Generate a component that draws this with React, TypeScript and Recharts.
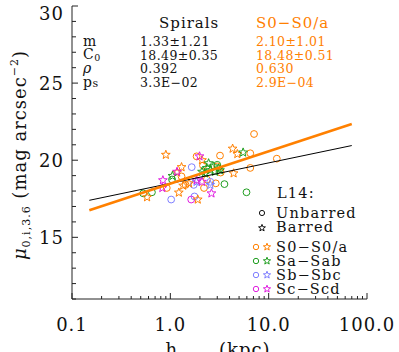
import React from "react";
import { ScatterChart, Scatter, XAxis, YAxis } from "recharts";

const ORANGE = "#ff8000";
const GREEN = "#1f9e1f";
const BLUE = "#7f7fff";
const MAGENTA = "#e01ee0";
const AXIS = "#222";
const FONT = "'DejaVu Serif', serif";

// h (kpc), mu_0 (mag arcsec^-2)
const s0Unbarred: [number, number][] = [
  [7.1, 21.7], [6.5, 20.45], [12.1, 20.1], [6.5, 19.5], [3.2, 20.3],
  [1.85, 20.25], [2.15, 19.65], [3.0, 19.6], [3.25, 19.2], [1.3, 18.95],
  [0.92, 18.2], [1.43, 18.4], [2.2, 18.2], [2.9, 18.5], [2.35, 18.75],
];
const s0Barred: [number, number][] = [
  [0.9, 20.35], [4.3, 20.75], [4.8, 20.4], [4.4, 19.15], [1.3, 19.55],
  [1.17, 19.2], [0.58, 17.6], [1.22, 17.9], [1.35, 18.35], [1.9, 17.45],
  [2.1, 20.0], [1.55, 18.5],
];
const saUnbarred: [number, number][] = [
  [0.53, 17.85], [0.65, 17.92], [5.95, 17.92], [3.55, 18.45], [3.0, 19.7], [1.04, 18.75],
];
const saBarred: [number, number][] = [
  [5.5, 20.5], [1.05, 18.98], [2.45, 19.8], [2.1, 19.25], [2.25, 19.15],
  [2.55, 19.35], [2.75, 19.6], [2.85, 19.25], [3.1, 19.45], [2.35, 19.5], [3.2, 19.35],
];
const sbUnbarred: [number, number][] = [
  [1.65, 19.55], [1.02, 17.45], [1.73, 18.4], [1.76, 17.65], [2.55, 18.6],
];
const sbBarred: [number, number][] = [[2.55, 18.4], [1.85, 18.6]];
const scUnbarred: [number, number][] = [[1.63, 17.45]];
const scBarred: [number, number][] = [
  [1.98, 20.25], [0.84, 18.7], [0.83, 18.2], [1.17, 19.25], [2.62, 17.85], [1.85, 18.7], [2.1, 18.6],
];

// fitted relations (end points)
const spiralFit: [number, number][] = [[0.15, 17.4], [70, 20.95]];
const s0Fit: [number, number][] = [[0.15, 16.75], [70, 22.35]];

const xTicks = [
  0.1, 0.2, 0.3, 0.4, 0.5, 0.6, 0.7, 0.8, 0.9,
  1, 2, 3, 4, 5, 6, 7, 8, 9,
  10, 20, 30, 40, 50, 60, 70, 80, 90, 100,
];
const xMajor = [0.1, 1, 10, 100];
const xLabels = ["0.1", "1.0", "10.0", "100.0"];
const yTicks = [11, 12, 13, 14, 15, 16, 17, 18, 19, 20, 21, 22, 23, 24, 25, 26, 27, 28, 29, 30];
const yMajor = [15, 20, 25, 30];

const toPts = (arr: [number, number][]) => arr.map(([x, y]) => ({ x, y }));

function starPath(cx: number, cy: number, R: number) {
  const r = R * 0.42;
  let d = "";
  for (let i = 0; i < 10; i++) {
    const rad = i % 2 === 0 ? R : r;
    const a = -Math.PI / 2 + (i * Math.PI) / 5;
    d += (i === 0 ? "M" : "L") + (cx + rad * Math.cos(a)).toFixed(2) + "," + (cy + rad * Math.sin(a)).toFixed(2);
  }
  return d + "Z";
}

const circleShape = (color: string) => (p: any) =>
  <circle cx={p.cx} cy={p.cy} r={3.4} fill="none" stroke={color} strokeWidth={1} />;
const starShape = (color: string) => (p: any) =>
  <path d={starPath(p.cx, p.cy, 4.6)} fill="none" stroke={color} strokeWidth={1} />;
const noShape = () => <g />;

function BottomTick({ x, y, payload }: any) {
  const i = xMajor.indexOf(payload.value);
  return (
    <g>
      <line x1={x} x2={x} y1={y} y2={y - (i >= 0 ? 6 : 3)} stroke={AXIS} />
      {i >= 0 && (
        <text x={x} y={y + 32} textAnchor="middle" fontFamily={FONT} fontSize={18} letterSpacing={1} fill="#111">
          {xLabels[i]}
        </text>
      )}
    </g>
  );
}
function TopTick({ x, y, payload }: any) {
  const major = xMajor.includes(payload.value);
  return <line x1={x} x2={x} y1={y} y2={y + (major ? 6 : 3)} stroke={AXIS} />;
}
function LeftTick({ x, y, payload }: any) {
  const major = yMajor.includes(payload.value);
  return (
    <g>
      <line x1={x} x2={x + (major ? 6 : 4)} y1={y} y2={y} stroke={AXIS} />
      {major && (
        <text x={x - 8} y={Math.max(y, 13) + 7} textAnchor="end" fontFamily={FONT} fontSize={18} letterSpacing={1} fill="#111">
          {payload.value}
        </text>
      )}
    </g>
  );
}
function RightTick({ x, y, payload }: any) {
  const major = yMajor.includes(payload.value);
  return <line x1={x} x2={x - (major ? 6 : 4)} y1={y} y2={y} stroke={AXIS} />;
}

function Overlay() {
  const t = { fontFamily: FONT, fill: "#111" } as const;
  const legendRows = [
    { label: "S0\u2212S0/a", color: ORANGE, y: 247 },
    { label: "Sa\u2212Sab", color: GREEN, y: 261 },
    { label: "Sb\u2212Sbc", color: BLUE, y: 275 },
    { label: "Sc\u2212Scd", color: MAGENTA, y: 289 },
  ];
  return (
    <svg width={399} height={352} style={{ position: "absolute", left: 0, top: 0, pointerEvents: "none" }}>
      <g fontSize={15} letterSpacing={1}>
        <text x={159} y={28} {...t}>Spirals</text>
        <text x={256} y={28} {...t} fill={ORANGE}>S0{"\u2212"}S0/a</text>
      </g>
      <g fontSize={12.5} letterSpacing={0.4} {...t}>
        <text x={83} y={46} fontSize={14}>m</text>
        <text x={83} y={58.5} fontSize={14}>C<tspan fontSize={9.5} dy={2.5}>0</tspan></text>
        <text x={83} y={73} fontSize={14} fontStyle="italic">{"\u03c1"}</text>
        <text x={83} y={86.5} fontSize={14}>p<tspan fontSize={11}>s</tspan></text>
        <text x={140} y={46}>1.33{"\u00b1"}1.21</text>
        <text x={140} y={59.5}>18.49{"\u00b1"}0.35</text>
        <text x={140} y={73}>0.392</text>
        <text x={140} y={87}>3.3E{"\u2212"}02</text>
        <g fill={ORANGE}>
          <text x={256} y={46}>2.10{"\u00b1"}1.01</text>
          <text x={256} y={59.5}>18.48{"\u00b1"}0.51</text>
          <text x={256} y={73}>0.630</text>
          <text x={256} y={87}>2.9E{"\u2212"}04</text>
        </g>
      </g>
      <g fontSize={14.5} letterSpacing={1.2} {...t}>
        <text x={277} y={198}>L14:</text>
        <text x={276} y={218}>Unbarred</text>
        <text x={276} y={232}>Barred</text>
        <circle cx={262} cy={213} r={2.6} fill="none" stroke="#111" />
        <path d={starPath(262, 228, 3.6)} fill="none" stroke="#111" />
        {legendRows.map((r) => (
          <g key={r.label}>
            <circle cx={256} cy={r.y} r={2.7} fill="none" stroke={r.color} />
            <path d={starPath(267, r.y, 3.8)} fill="none" stroke={r.color} />
            <text x={276} y={r.y + 5} {...t}>{r.label}</text>
          </g>
        ))}
      </g>
      <text transform="translate(26,155) rotate(-90)" textAnchor="middle" fontSize={18} letterSpacing={1} {...t}>
        <tspan fontStyle="italic">{"\u03bc"}</tspan>
        <tspan fontSize={11} dy={4}>0,i,3.6</tspan>
        <tspan dy={-4}> (mag arcsec</tspan>
        <tspan fontSize={11} dy={-8}>{"\u2212"}2</tspan>
        <tspan dy={8}>)</tspan>
      </text>
      <text x={218} y={356} textAnchor="middle" fontSize={18} letterSpacing={1} {...t}>
        h<tspan fontSize={11} dy={4}>R,3.6</tspan>
        <tspan dy={-4}> (kpc)</tspan>
      </text>
    </svg>
  );
}

export default function App() {
  return (
    <div style={{ position: "absolute", left: 0, top: 0, width: 399, height: 352, background: "#fff" }}>
      <ScatterChart width={399} height={352} margin={{ top: 6, right: 32, bottom: 0, left: 0 }}>
        <XAxis xAxisId="b" dataKey="x" type="number" scale="log" domain={[0.1, 100]} allowDataOverflow
          ticks={xTicks} interval={0} tickSize={0} tickMargin={0} height={53}
          stroke={AXIS} tick={<BottomTick />} />
        <XAxis xAxisId="t" orientation="top" dataKey="x" type="number" scale="log" domain={[0.1, 100]} allowDataOverflow
          ticks={xTicks} interval={0} tickSize={0} tickMargin={0} height={0}
          stroke={AXIS} tick={<TopTick />} />
        <YAxis yAxisId="l" dataKey="y" type="number" domain={[11, 30]} allowDataOverflow
          ticks={yTicks} interval={0} tickSize={0} tickMargin={0} width={72}
          stroke={AXIS} tick={<LeftTick />} />
        <YAxis yAxisId="r" orientation="right" dataKey="y" type="number" domain={[11, 30]} allowDataOverflow
          ticks={yTicks} interval={0} tickSize={0} tickMargin={0} width={0}
          stroke={AXIS} tick={<RightTick />} />
        <Scatter xAxisId="b" yAxisId="l" data={toPts(s0Unbarred)} shape={circleShape(ORANGE)} isAnimationActive={false} />
        <Scatter xAxisId="b" yAxisId="l" data={toPts(saUnbarred)} shape={circleShape(GREEN)} isAnimationActive={false} />
        <Scatter xAxisId="b" yAxisId="l" data={toPts(sbUnbarred)} shape={circleShape(BLUE)} isAnimationActive={false} />
        <Scatter xAxisId="b" yAxisId="l" data={toPts(scUnbarred)} shape={circleShape(MAGENTA)} isAnimationActive={false} />
        <Scatter xAxisId="b" yAxisId="l" data={toPts(s0Barred)} shape={starShape(ORANGE)} isAnimationActive={false} />
        <Scatter xAxisId="b" yAxisId="l" data={toPts(saBarred)} shape={starShape(GREEN)} isAnimationActive={false} />
        <Scatter xAxisId="b" yAxisId="l" data={toPts(sbBarred)} shape={starShape(BLUE)} isAnimationActive={false} />
        <Scatter xAxisId="b" yAxisId="l" data={toPts(scBarred)} shape={starShape(MAGENTA)} isAnimationActive={false} />
        <Scatter xAxisId="b" yAxisId="l" data={toPts(spiralFit)} line={{ stroke: "#000", strokeWidth: 1 }} lineType="joint"
          shape={noShape} isAnimationActive={false} />
        <Scatter xAxisId="b" yAxisId="l" data={toPts(s0Fit)} line={{ stroke: ORANGE, strokeWidth: 2.6 }} lineType="joint"
          shape={noShape} isAnimationActive={false} />
      </ScatterChart>
      <Overlay />
    </div>
  );
}
